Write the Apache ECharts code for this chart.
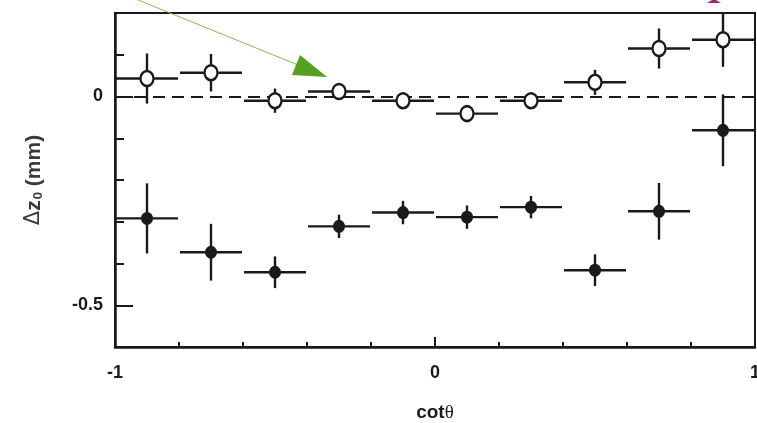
<!DOCTYPE html>
<html>
<head>
<meta charset="utf-8">
<script src="https://cdn.jsdelivr.net/npm/echarts@6/dist/echarts.min.js"></script>
<style>
html,body{margin:0;padding:0;background:#fff;}
#chart{width:757px;height:423px;}
</style>
</head>
<body>
<div id="chart"></div>
<script>
// Data
var binCenters = [-0.9, -0.7, -0.5, -0.3, -0.1, 0.1, 0.3, 0.5, 0.7, 0.9];
var binHalfWidth = [0.1, 0.1, 0.1, 0.1, 0.1, 0.1, 0.1, 0.1, 0.1, 0.1];
var openY   = [0.043, 0.057, -0.010, 0.012, -0.010, -0.041, -0.010, 0.034, 0.115, 0.136];
var openErr = [0.060, 0.045, 0.029, 0.020, 0.015, 0.008, 0.015, 0.030, 0.048, 0.065];
var filledY   = [-0.292, -0.373, -0.421, -0.311, -0.278, -0.289, -0.265, -0.416, -0.275, -0.081];
var filledErr = [0.084, 0.068, 0.038, 0.028, 0.028, 0.028, 0.027, 0.038, 0.068, 0.086];
var yMajorTicks = [0, -0.5];
var xMajorTicks = [-1, 0, 1];

function buildErr(ys, errs) {
  return binCenters.map(function (x, i) { return [x, ys[i], errs[i], binHalfWidth[i]]; });
}
function buildPts(ys) {
  return binCenters.map(function (x, i) { return [x, ys[i]]; });
}

function renderErr(params, api) {
  var x = api.value(0), y = api.value(1), e = api.value(2), hw = api.value(3);
  var cs = params.coordSys;
  var left = api.coord([x - hw, y]);
  var right = api.coord([x + hw, y]);
  var top = api.coord([x, y + e]);
  var bot = api.coord([x, y - e]);
  var clampY = function (v) { return Math.max(cs.y, Math.min(cs.y + cs.height, v)); };
  var clampX = function (v) { return Math.max(cs.x, Math.min(cs.x + cs.width, v)); };
  var style = { stroke: '#1a1a1a', lineWidth: 2.4, fill: null };
  return {
    type: 'group',
    children: [
      { type: 'line', shape: { x1: clampX(left[0] + 1), y1: left[1], x2: clampX(right[0] - 1), y2: right[1] }, style: style },
      { type: 'line', shape: { x1: top[0], y1: clampY(top[1]), x2: bot[0], y2: clampY(bot[1]) }, style: style }
    ]
  };
}

var labelFont = { fontFamily: 'Liberation Sans', fontWeight: 'bold', fontSize: 18, color: '#1a1a1a' };

var chart = echarts.init(document.getElementById('chart'), null, { renderer: 'canvas' });
chart.setOption({
  animation: false,
  backgroundColor: '#fff',
  grid: { left: 115, right: 2, top: 13, bottom: 76, containLabel: false, outerBoundsMode: 'none',
    show: true, borderColor: '#1a1a1a', borderWidth: 2, backgroundColor: 'transparent' },
  xAxis: [
    {
      type: 'value', min: -1, max: 1, interval: 0.2, position: 'bottom',
      axisLine: { show: true, onZero: false, lineStyle: { color: '#1a1a1a', width: 2.5 } },
      axisTick: { show: true, inside: true, length: 5, lineStyle: { color: '#1a1a1a', width: 2 } },
      axisLabel: { show: false },
      splitLine: { show: false },
      name: '{a|cot}{b|θ}', nameLocation: 'middle', nameGap: 55,
      nameTextStyle: {
        rich: {
          a: { fontFamily: 'Liberation Sans', fontWeight: 'bold', fontSize: 19, lineHeight: 22, color: '#1a1a1a' },
          b: { fontFamily: 'Liberation Serif', fontWeight: 'normal', fontSize: 19, lineHeight: 22, color: '#1a1a1a' }
        }
      }
    },
    {
      type: 'value', min: -1, max: 1, position: 'bottom',
      axisLine: { show: false, onZero: false },
      axisTick: { show: true, inside: true, length: 10, customValues: xMajorTicks, lineStyle: { color: '#1a1a1a', width: 2 } },
      axisLabel: Object.assign({ show: true, margin: 17, customValues: xMajorTicks, showMinLabel: true, showMaxLabel: true,
        formatter: function (v) { return String(Math.round(v)); } }, labelFont),
      splitLine: { show: false }
    }
  ],
  yAxis: [
    {
      type: 'value', min: -0.6, max: 0.2, interval: 0.1, position: 'left',
      axisLine: { show: true, onZero: false, lineStyle: { color: '#1a1a1a', width: 2.5 } },
      axisTick: { show: true, inside: true, length: 9, lineStyle: { color: '#1a1a1a', width: 2 } },
      axisLabel: { show: false },
      splitLine: { show: false },
      name: '{d|Δ}{z|z}{s|0}{z| (mm)}', nameLocation: 'middle', nameGap: 70, nameRotate: 90,
      nameTextStyle: {
        rich: {
          d: { fontFamily: 'DejaVu Sans', fontWeight: 'normal', fontSize: 21, color: '#3a3a3a' },
          z: { fontFamily: 'Liberation Sans', fontWeight: 'bold', fontSize: 21, color: '#3a3a3a' },
          s: { fontFamily: 'Liberation Sans', fontWeight: 'bold', fontSize: 13, color: '#3a3a3a', padding: [9, 0, 0, 1] }
        }
      }
    },
    {
      type: 'value', min: -0.6, max: 0.2, position: 'left',
      axisLine: { show: false, onZero: false },
      axisTick: { show: true, inside: true, length: 18, customValues: yMajorTicks, lineStyle: { color: '#1a1a1a', width: 2 } },
      axisLabel: Object.assign({ show: true, margin: 12, customValues: yMajorTicks,
        formatter: function (v) { return Math.abs(v) < 1e-9 ? '0' : String(Math.round(v * 10) / 10); } }, labelFont),
      splitLine: { show: false }
    }
  ],
  series: [
    {
      type: 'line', xAxisIndex: 0, yAxisIndex: 0, data: [], silent: true,
      markLine: {
        silent: true, symbol: ['none', 'none'], label: { show: false },
        lineStyle: { color: '#1a1a1a', width: 2, type: [12, 7] },
        data: [{ yAxis: 0 }]
      }
    },
    { type: 'custom', name: 'openErr', xAxisIndex: 0, yAxisIndex: 0, renderItem: renderErr, data: buildErr(openY, openErr), z: 3 },
    { type: 'custom', name: 'filledErr', xAxisIndex: 0, yAxisIndex: 0, renderItem: renderErr, data: buildErr(filledY, filledErr), z: 3 },
    {
      type: 'scatter', name: 'open', xAxisIndex: 0, yAxisIndex: 0, data: buildPts(openY), z: 5,
      symbol: 'circle', symbolSize: [13, 15],
      itemStyle: { color: '#fff', borderColor: '#1a1a1a', borderWidth: 2.4, opacity: 1 }
    },
    {
      type: 'scatter', name: 'filled', xAxisIndex: 0, yAxisIndex: 0, data: buildPts(filledY), z: 5,
      symbol: 'circle', symbolSize: [12, 13],
      itemStyle: { color: '#1a1a1a', opacity: 1 }
    }
  ],
  graphic: [
    { type: 'line', z: 100, shape: { x1: 138, y1: 0, x2: 298, y2: 65 }, style: { stroke: '#7fc151', lineWidth: 1 } },
    { type: 'polygon', z: 100, shape: { points: [[300, 55], [292, 75], [327, 77]] }, style: { fill: '#55a01e' } },
    { type: 'polygon', z: 100, shape: { points: [[712, 0], [716, 0], [721, 3], [707, 3]] }, style: { fill: '#9b2d6b' } }
  ]
});
</script>
</body>
</html>
